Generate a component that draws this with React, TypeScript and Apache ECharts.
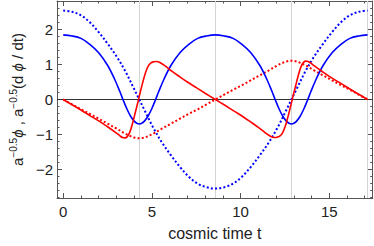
import React, { useEffect, useRef } from "react";
import * as echarts from "echarts";

// cosmic time t vs value
const blueSolid: [number, number][] = [
  [0, 1.85], [0.5, 1.82], [1.0, 1.75], [1.5, 1.58], [2.0, 1.34], [2.5, 0.98], [2.9, 0.58], [3.2, 0.22],
  [3.37, 0], [3.6, -0.28], [3.8, -0.48], [4.0, -0.62], [4.15, -0.68], [4.29, -0.7], [4.43, -0.68],
  [4.58, -0.62], [4.78, -0.48], [4.98, -0.28], [5.21, 0], [5.38, 0.22], [5.68, 0.58], [6.08, 0.98],
  [6.58, 1.34], [7.08, 1.58], [7.58, 1.75], [8.08, 1.82], [8.58, 1.85],
  [9.08, 1.82], [9.58, 1.75], [10.08, 1.58], [10.58, 1.34], [11.08, 0.98], [11.48, 0.58], [11.78, 0.22],
  [11.95, 0], [12.18, -0.28], [12.38, -0.48], [12.58, -0.62], [12.73, -0.68], [12.87, -0.7], [13.01, -0.68],
  [13.16, -0.62], [13.36, -0.48], [13.56, -0.28], [13.79, 0], [13.96, 0.22], [14.26, 0.58], [14.66, 0.98],
  [15.16, 1.34], [15.66, 1.58], [16.16, 1.75], [16.66, 1.82], [17.16, 1.85],
];

const blueDotted: [number, number][] = [
  [0, 2.55], [0.5, 2.51], [1.0, 2.41], [1.5, 2.21], [2.0, 1.93], [2.5, 1.6], [3.0, 1.24], [3.5, 0.81],
  [4.0, 0.3], [4.29, 0], [4.58, -0.3], [5.08, -0.81], [5.58, -1.24], [6.08, -1.6], [6.58, -1.93],
  [7.08, -2.21], [7.58, -2.41], [8.08, -2.51], [8.58, -2.55],
  [9.08, -2.51], [9.58, -2.41], [10.08, -2.21], [10.58, -1.93], [11.08, -1.6], [11.58, -1.24],
  [12.08, -0.81], [12.58, -0.3], [12.87, 0], [13.16, 0.3], [13.66, 0.81], [14.16, 1.24], [14.66, 1.6],
  [15.16, 1.93], [15.66, 2.21], [16.16, 2.41], [16.66, 2.51], [17.16, 2.55],
];

const redSolid: [number, number][] = [
  [0, 0], [0.5, -0.15], [1.0, -0.3], [1.5, -0.46], [2.0, -0.61], [2.5, -0.78], [3.0, -0.96], [3.2, -1.04],
  [3.35, -1.09], [3.48, -1.1], [3.6, -1.07], [3.75, -0.94], [3.9, -0.7], [4.05, -0.4], [4.2, -0.1], [4.35, 0.22],
  [4.5, 0.52], [4.65, 0.78], [4.8, 0.96], [4.95, 1.05], [5.1, 1.08], [5.25, 1.09], [5.45, 1.06],
  [5.75, 0.96], [6.1, 0.82], [6.6, 0.64], [7.0, 0.5], [7.5, 0.34], [8.0, 0.18], [8.58, 0],
  [9.16, -0.18], [9.66, -0.34], [10.16, -0.5], [10.56, -0.64], [11.06, -0.82], [11.41, -0.96],
  [11.71, -1.06], [11.91, -1.09], [12.06, -1.08], [12.21, -1.05], [12.36, -0.96], [12.51, -0.78],
  [12.66, -0.52], [12.81, -0.22], [12.96, 0.1], [13.11, 0.4], [13.26, 0.7], [13.41, 0.94], [13.56, 1.07],
  [13.68, 1.1], [13.81, 1.09], [13.96, 1.04], [14.16, 0.96], [14.66, 0.78], [15.16, 0.61], [15.66, 0.46], [16.16, 0.3],
  [16.66, 0.15], [17.16, 0],
];

const redDotted: [number, number][] = [
  [0, 0], [0.5, -0.14], [1.0, -0.28], [1.5, -0.41], [2.0, -0.55], [2.5, -0.69], [3.0, -0.83], [3.5, -0.98],
  [3.8, -1.05], [4.0, -1.09], [4.29, -1.11], [4.58, -1.09], [4.78, -1.05], [5.08, -0.98], [5.58, -0.83],
  [6.08, -0.69], [6.58, -0.55], [7.08, -0.41], [7.58, -0.28], [8.08, -0.14], [8.58, 0],
  [9.08, 0.14], [9.58, 0.28], [10.08, 0.41], [10.58, 0.55], [11.08, 0.69], [11.58, 0.83], [12.08, 0.98],
  [12.38, 1.05], [12.58, 1.09], [12.87, 1.11], [13.16, 1.09], [13.36, 1.05], [13.66, 0.98], [14.16, 0.83],
  [14.66, 0.69], [15.16, 0.55], [15.66, 0.41], [16.16, 0.28], [16.66, 0.14], [17.16, 0],
];

const gridTimes = [4.29, 8.58, 12.87, 17.16];
const xRange = [-0.35, 17.45];
const yRange = [-2.82, 2.82];

const FONT = "Liberation Sans, Arial, sans-serif";
const FRAME = "#555555";

export default function App() {
  const ref = useRef<HTMLDivElement>(null);
  useEffect(() => {
    if (!ref.current) return;
    const chart = echarts.init(ref.current, null, { renderer: "svg" });
    const frameAxis = {
      axisLine: { show: true, onZero: false, lineStyle: { color: FRAME, width: 1 } },
      axisTick: { show: true, inside: true, length: 5, lineStyle: { color: FRAME, width: 1 } },
      minorTick: { show: true, splitNumber: 5, length: 2.5, lineStyle: { color: FRAME, width: 1 } },
      splitLine: { show: false },
    };
    const xBase = {
      type: "value",
      min: xRange[0],
      max: xRange[1],
      splitNumber: 4,
      minInterval: 5,
      maxInterval: 5,
      ...frameAxis,
    };
    const yBase = {
      type: "value",
      min: yRange[0],
      max: yRange[1],
      minInterval: 1,
      maxInterval: 1,
      ...frameAxis,
    };
    const lineSeries = (data: [number, number][], color: string, dotted: boolean) => ({
      type: "line",
      data,
      showSymbol: false,
      symbol: "none",
      smooth: 0.35,
      z: 3,
      lineStyle: dotted
        ? { color, width: 2, type: [2, 2.2] }
        : { color, width: 1.6, type: "solid" },
      silent: true,
    });
    chart.setOption({
      animation: false,
      grid: { left: 48, right: 1.3, top: 1, bottom: 46, containLabel: false },
      xAxis: [
        {
          ...xBase,
          position: "bottom",
          name: "cosmic time t",
          nameLocation: "middle",
          nameGap: 27,
          nameTextStyle: { fontFamily: FONT, fontSize: 16, color: "#222" },
          axisLabel: {
            show: true,
            margin: 6,
            fontFamily: FONT,
            fontSize: 15,
            color: "#222",
            showMinLabel: false,
            showMaxLabel: false,
          },
        },
        { ...xBase, position: "top", axisLabel: { show: false } },
      ],
      yAxis: [
        {
          ...yBase,
          position: "left",
          name: "{n|a}{s|−0.5}{i|ϕ}{n| , a}{s|−0.5}{n|(d }{i|ϕ}{n| / dt)}",
          nameLocation: "middle",
          nameRotate: 90,
          nameGap: 30,
          nameTextStyle: {
            fontFamily: FONT,
            fontSize: 15,
            color: "#222",
            rich: {
              n: { fontFamily: FONT, fontSize: 15, color: "#222", lineHeight: 19 },
              i: { fontFamily: FONT, fontSize: 15, color: "#222", fontStyle: "italic", lineHeight: 19 },
              s: { fontFamily: FONT, fontSize: 10, color: "#222", lineHeight: 12, verticalAlign: "top" },
            },
          },
          axisLabel: {
            show: true,
            margin: 4,
            fontFamily: FONT,
            fontSize: 15,
            color: "#222",
            showMinLabel: false,
            showMaxLabel: false,
            formatter: (v: number) => String(v).replace("-", "−"),
          },
        },
        { ...yBase, position: "right", axisLabel: { show: false } },
      ],
      series: [
        {
          type: "line",
          data: [],
          z: 1,
          silent: true,
          markLine: {
            silent: true,
            z: 1,
            symbol: "none",
            label: { show: false },
            emphasis: { disabled: true },
            data: [
              ...gridTimes.map((t) => ({ xAxis: t, lineStyle: { color: "#d4d4d4", width: 1, type: "solid" } })),
              { yAxis: 0, lineStyle: { color: "#333333", width: 1, type: "solid" } },
            ],
          },
        },
        lineSeries(blueDotted, "#0000ff", true),
        lineSeries(redDotted, "#ff0000", true),
        lineSeries(blueSolid, "#0000ff", false),
        lineSeries(redSolid, "#ff0000", false),
      ],
    });
    return () => chart.dispose();
  }, []);
  return (
    <div
      ref={ref}
      style={{ position: "fixed", left: 0, top: 0, width: 374, height: 246, background: "#fff" }}
    />
  );
}
